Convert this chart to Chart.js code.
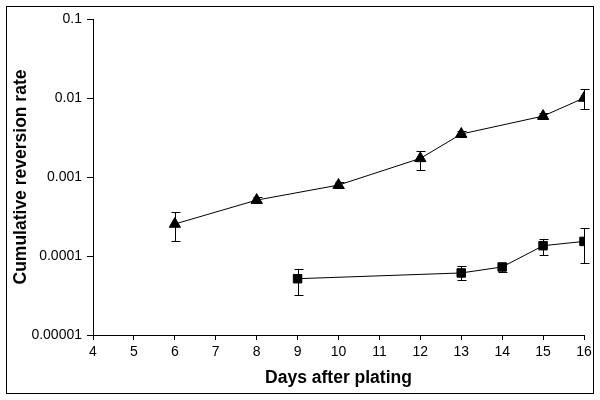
<!DOCTYPE html>
<html>
<head>
<meta charset="utf-8">
<script src="https://cdn.jsdelivr.net/npm/chart.js@4"></script>
<style>
  body { margin: 0; background: #fff; }
  #wrap { width: 600px; height: 400px; }
</style>
</head>
<body>
<div id="wrap"><canvas id="chart" width="600" height="400"></canvas></div>
<script>
// days and values
const triDays = [6, 8, 10, 12, 13, 15, 16];
const triRate = [0.000254, 0.00051, 0.00079, 0.00172, 0.0035, 0.0059, 0.0100];
const triHigh = [0.000357, 0.00056, 0.00087, 0.00215, 0.0038, 0.0064, 0.0131];
const triLow  = [0.000153, 0.00047, 0.00073, 0.00123, 0.0032, 0.0054, 0.0072];

const sqDays = [9, 13, 14, 15, 16];
const sqRate = [0.0000516, 0.000061, 0.0000726, 0.000135, 0.000153];
const sqHigh = [0.000068, 0.000074, 0.000082, 0.000163, 0.000224];
const sqLow  = [0.000032, 0.0000497, 0.000063, 0.000103, 0.000082];

const yTicks = [0.00001, 0.0001, 0.001, 0.01, 0.1];
const yTickLabels = ["0.00001", "0.0001", "0.001", "0.01", "0.1"];

const toPoints = (xs, ys, hi, lo) => xs.map((x, i) => ({ x: x, y: ys[i], hi: hi[i], lo: lo[i] }));

//error bars and the frame round the whole picture
const errorBars = {
  id: "errorBars",
  afterDatasetsDraw: chart => {
    const ctx = chart.ctx;
    const xs = chart.scales.x, ys = chart.scales.y;
    ctx.save();
    ctx.strokeStyle = "#000";
    ctx.lineWidth = 1;
    chart.data.datasets.forEach(ds => {
      ds.data.forEach(p => {
        const px = Math.round(xs.getPixelForValue(p.x)) + 0.5;
        const top = Math.round(ys.getPixelForValue(p.hi)) + 0.5;
        const bot = Math.round(ys.getPixelForValue(p.lo)) + 0.5;
        ctx.beginPath();
        ctx.moveTo(px, top); ctx.lineTo(px, bot);
        ctx.moveTo(px - 4, top); ctx.lineTo(px + 5, top);
        ctx.moveTo(px - 4, bot); ctx.lineTo(px + 5, bot);
        ctx.stroke();
      });
    });
    ctx.restore();
  },
  afterDraw: chart => {
    const ctx = chart.ctx;
    ctx.save();
    ctx.strokeStyle = "#000";
    ctx.lineWidth = 1;
    ctx.strokeRect(6.5, 6.5, 587, 387);
    ctx.restore();
  }
};

const tickFont = { family: "Liberation Sans, Arial, sans-serif", size: 14 };
const titleFont = { family: "Liberation Sans, Arial, sans-serif", size: 17.5, weight: "bold" };

new Chart(document.getElementById("chart"), {
  type: "scatter",
  plugins: [errorBars],
  data: {
    datasets: [
      {
        data: toPoints(triDays, triRate, triHigh, triLow),
        showLine: true,
        borderColor: "#000",
        borderWidth: 1,
        backgroundColor: "#000",
        pointStyle: "triangle",
        pointRadius: 6.5,
      },
      {
        data: toPoints(sqDays, sqRate, sqHigh, sqLow),
        showLine: true,
        borderColor: "#000",
        borderWidth: 1,
        backgroundColor: "#000",
        pointStyle: "rect",
        pointRadius: 6,
      },
    ],
  },
  options: {
    responsive: false,
    animation: false,
    layout: { padding: { left: 0, top: 19, right: 16, bottom: 0 } },
    plugins: { legend: { display: false }, tooltip: { enabled: false } },
    scales: {
      x: {
        type: "linear",
        min: 4,
        max: 16,
        afterFit: s => { s.height = 65; },
        ticks: { stepSize: 1, color: "#000", font: tickFont, padding: 4 },
        grid: { drawOnChartArea: false, tickLength: 5, color: "#000" },
        border: { color: "#000", width: 1 },
        title: { display: true, text: "Days after plating", color: "#000", font: titleFont, padding: { top: 4, bottom: 11 } },
      },
      y: {
        type: "logarithmic",
        min: 0.00001,
        max: 0.1,
        afterFit: s => { s.width = 93; },
        afterBuildTicks: s => { s.ticks = yTicks.map(v => ({ value: v })); },
        ticks: { color: "#000", font: tickFont, padding: 5, callback: (v, i) => yTickLabels[i] },
        grid: { drawOnChartArea: false, tickLength: 6, color: "#000" },
        border: { color: "#000", width: 1 },
        title: { display: true, text: "Cumulative reversion rate", color: "#000", font: titleFont, padding: { top: 11, bottom: 4 } },
      },
    },
  },
});
</script>
</body>
</html>
